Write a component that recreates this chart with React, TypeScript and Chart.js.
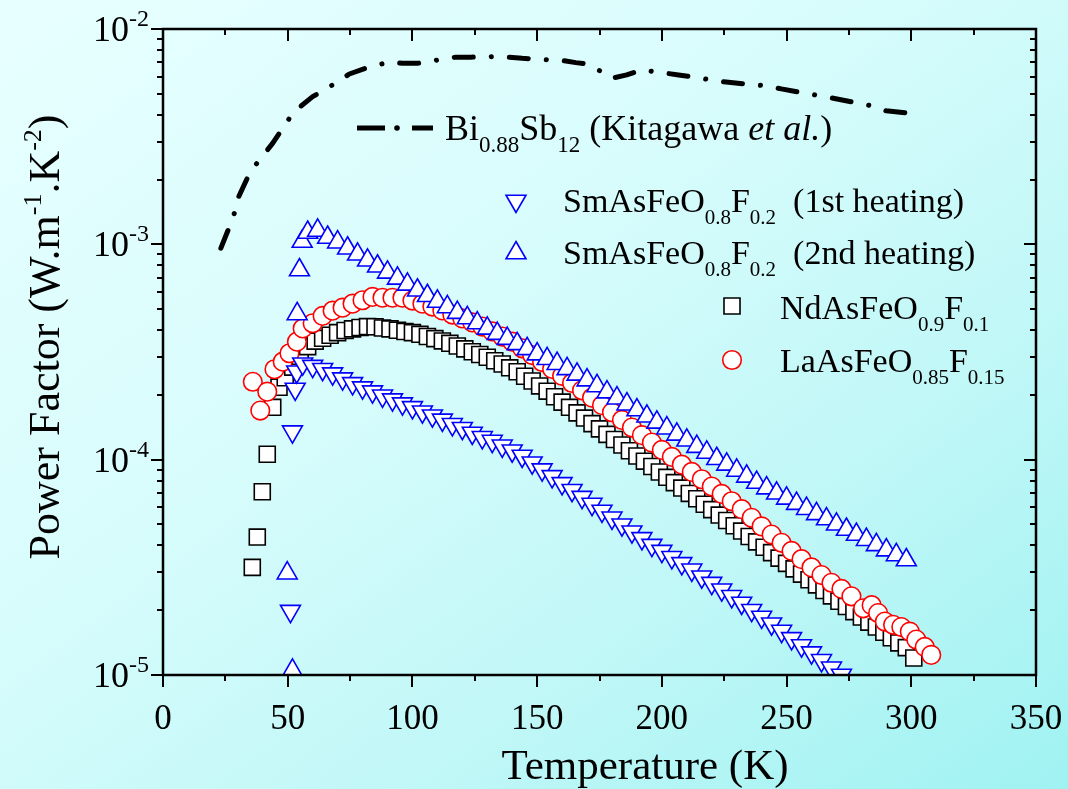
import React, { useEffect, useRef } from 'react';
import { Chart, registerables } from 'chart.js';

Chart.register(...registerables);

const FONT = "'Liberation Serif', 'Times New Roman', Times, serif";

// ---------- data (Temperature K, Power factor W m^-1 K^-2) ----------
const biT = [23.2, 27.4, 29.1, 30.4, 34.7, 38.7, 44, 50.7, 54.7, 60, 70.7, 74.7, 81.4, 90.7, 95.9, 102, 112, 117.4, 123.4, 133.4, 138.7, 144, 153.4, 158.7, 165.5, 169.5, 173.5, 180, 185.9, 191.9, 200, 206.7, 215.9, 221.4, 226.7, 236.7, 242, 247.9, 257.5, 262.7, 268.7, 278.7, 284, 289.9, 299.5];
const biV = [9.6e-4, 1.27e-3, 1.45e-3, 1.67e-3, 2.14e-3, 2.47e-3, 2.95e-3, 3.85e-3, 4.33e-3, 4.85e-3, 5.74e-3, 6.18e-3, 6.58e-3, 7.03e-3, 6.93e-3, 6.93e-3, 7.24e-3, 7.4e-3, 7.4e-3, 7.45e-3, 7.4e-3, 7.31e-3, 7.2e-3, 7.18e-3, 6.98e-3, 6.9e-3, 6.57e-3, 5.91e-3, 6.12e-3, 6.46e-3, 6.27e-3, 6.12e-3, 5.9e-3, 5.75e-3, 5.66e-3, 5.5e-3, 5.46e-3, 5.27e-3, 5.03e-3, 4.91e-3, 4.77e-3, 4.52e-3, 4.4e-3, 4.17e-3, 4.06e-3];

const sm1T = [51.1, 51.9, 53.0, 53.6, 56, 60, 64, 68, 72, 76, 80, 84, 88, 92, 96, 100, 104, 108, 112, 116, 120, 124, 128, 132, 136, 140, 144, 148, 152, 156, 160, 164, 168, 172, 176, 180, 184, 188, 192, 196, 200, 204, 208, 212, 216, 220, 224, 228, 232, 236, 240, 244, 248, 252, 256, 260, 264, 268, 272, 276];
const sm1V = [1.98e-5, 1.35e-4, 2.13e-4, 2.56e-4, 2.79e-4, 2.72e-4, 2.63e-4, 2.51e-4, 2.38e-4, 2.26e-4, 2.16e-4, 2.07e-4, 1.98e-4, 1.9e-4, 1.82e-4, 1.75e-4, 1.67e-4, 1.6e-4, 1.53e-4, 1.46e-4, 1.4e-4, 1.33e-4, 1.27e-4, 1.22e-4, 1.16e-4, 1.1e-4, 1.04e-4, 9.68e-5, 8.99e-5, 8.36e-5, 7.76e-5, 7.21e-5, 6.7e-5, 6.22e-5, 5.78e-5, 5.37e-5, 4.99e-5, 4.63e-5, 4.31e-5, 4.01e-5, 3.76e-5, 3.52e-5, 3.3e-5, 3.08e-5, 2.86e-5, 2.67e-5, 2.49e-5, 2.32e-5, 2.16e-5, 2.0e-5, 1.86e-5, 1.73e-5, 1.6e-5, 1.48e-5, 1.37e-5, 1.27e-5, 1.17e-5, 1.08e-5, 1.0e-5, 9.3e-6];

const sm2T = [51.9, 49.8, 53.8, 54.7, 55.8, 58, 62, 66, 70, 74, 78, 82, 86, 90, 94, 98, 102, 106, 110, 114, 118, 122, 126, 130, 134, 138, 142, 146, 150, 154, 158, 162, 166, 170, 174, 178, 182, 186, 190, 194, 198, 202, 206, 210, 214, 218, 222, 226, 230, 234, 238, 242, 246, 250, 254, 258, 262, 266, 270, 274, 278, 282, 286, 290, 294, 298];
const sm2V = [1.05e-5, 2.97e-5, 4.75e-4, 7.6e-4, 1.03e-3, 1.135e-3, 1.16e-3, 1.076e-3, 1.023e-3, 9.59e-4, 8.99e-4, 8.43e-4, 7.91e-4, 7.41e-4, 6.95e-4, 6.52e-4, 6.12e-4, 5.77e-4, 5.43e-4, 5.12e-4, 4.82e-4, 4.55e-4, 4.31e-4, 4.07e-4, 3.85e-4, 3.65e-4, 3.45e-4, 3.27e-4, 3.09e-4, 2.94e-4, 2.79e-4, 2.64e-4, 2.49e-4, 2.34e-4, 2.2e-4, 2.06e-4, 1.93e-4, 1.81e-4, 1.7e-4, 1.59e-4, 1.49e-4, 1.4e-4, 1.31e-4, 1.23e-4, 1.15e-4, 1.08e-4, 1.01e-4, 9.51e-5, 8.91e-5, 8.36e-5, 7.83e-5, 7.38e-5, 6.98e-5, 6.61e-5, 6.25e-5, 5.92e-5, 5.6e-5, 5.3e-5, 5.01e-5, 4.74e-5, 4.49e-5, 4.25e-5, 4.02e-5, 3.8e-5, 3.61e-5, 3.42e-5];

const ndT = [35.8, 37.8, 39.8, 41.8, 44.0, 46.5, 49, 52, 55, 58, 61, 64, 67, 70, 73, 76, 79, 82, 85, 88, 91, 94, 97, 100, 103, 106, 109, 112, 115, 118, 121, 124, 127, 130, 133, 136, 139, 142, 145, 148, 151, 154, 157, 160, 163, 166, 169, 172, 175, 178, 181, 184, 187, 190, 193, 196, 199, 202, 205, 208, 211, 214, 217, 220, 223, 226, 229, 232, 235, 238, 241, 244, 247, 250, 253, 256, 259, 262, 265, 268, 271, 274, 277, 280, 283, 286, 289, 292, 295, 298, 301];
const ndV = [3.16e-5, 4.37e-5, 7.1e-5, 1.06e-4, 1.75e-4, 2.17e-4, 2.4e-4, 2.69e-4, 3.02e-4, 3.35e-4, 3.55e-4, 3.66e-4, 3.78e-4, 3.89e-4, 3.98e-4, 4.05e-4, 4.11e-4, 4.15e-4, 4.14e-4, 4.09e-4, 4.05e-4, 3.99e-4, 3.94e-4, 3.89e-4, 3.82e-4, 3.73e-4, 3.65e-4, 3.56e-4, 3.47e-4, 3.37e-4, 3.27e-4, 3.17e-4, 3.08e-4, 2.99e-4, 2.88e-4, 2.78e-4, 2.67e-4, 2.56e-4, 2.44e-4, 2.32e-4, 2.2e-4, 2.08e-4, 1.96e-4, 1.85e-4, 1.75e-4, 1.65e-4, 1.56e-4, 1.47e-4, 1.39e-4, 1.31e-4, 1.24e-4, 1.17e-4, 1.1e-4, 1.04e-4, 9.84e-5, 9.29e-5, 8.77e-5, 8.28e-5, 7.82e-5, 7.38e-5, 6.97e-5, 6.58e-5, 6.21e-5, 5.86e-5, 5.53e-5, 5.22e-5, 4.93e-5, 4.66e-5, 4.4e-5, 4.15e-5, 3.92e-5, 3.7e-5, 3.49e-5, 3.3e-5, 3.11e-5, 2.94e-5, 2.77e-5, 2.62e-5, 2.47e-5, 2.33e-5, 2.2e-5, 2.08e-5, 1.97e-5, 1.86e-5, 1.76e-5, 1.67e-5, 1.58e-5, 1.49e-5, 1.41e-5, 1.34e-5, 1.2e-5];

const laT = [36, 39, 41.8, 44.7, 48, 50.7, 53.7, 56, 60, 64, 68, 72, 76, 80, 84, 88, 92, 96, 100, 104, 108, 112, 116, 120, 124, 128, 132, 136, 140, 144, 148, 152, 156, 160, 164, 168, 172, 176, 180, 184, 188, 192, 196, 200, 204, 208, 212, 216, 220, 224, 228, 232, 236, 240, 244, 248, 252, 256, 260, 264, 268, 272, 276, 280.7, 284.1, 286.7, 289.4, 292.7, 296, 299.4, 302, 305.4, 308];
const laV = [2.3e-4, 1.69e-4, 2.07e-4, 2.63e-4, 2.85e-4, 3.12e-4, 3.53e-4, 4.07e-4, 4.3e-4, 4.65e-4, 4.92e-4, 5.08e-4, 5.3e-4, 5.5e-4, 5.7e-4, 5.65e-4, 5.65e-4, 5.65e-4, 5.48e-4, 5.3e-4, 5.14e-4, 4.93e-4, 4.72e-4, 4.53e-4, 4.34e-4, 4.15e-4, 3.94e-4, 3.73e-4, 3.53e-4, 3.29e-4, 3.06e-4, 2.84e-4, 2.64e-4, 2.45e-4, 2.27e-4, 2.1e-4, 1.94e-4, 1.79e-4, 1.66e-4, 1.53e-4, 1.41e-4, 1.3e-4, 1.2e-4, 1.11e-4, 1.03e-4, 9.48e-5, 8.77e-5, 8.11e-5, 7.5e-5, 6.93e-5, 6.41e-5, 5.89e-5, 5.37e-5, 4.9e-5, 4.49e-5, 4.11e-5, 3.77e-5, 3.45e-5, 3.16e-5, 2.91e-5, 2.68e-5, 2.51e-5, 2.32e-5, 2.04e-5, 2.11e-5, 1.94e-5, 1.77e-5, 1.71e-5, 1.67e-5, 1.59e-5, 1.46e-5, 1.35e-5, 1.24e-5];

// ---------- axis ticks ----------
const xMajorTicks = [0, 50, 100, 150, 200, 250, 300, 350];
const xMinorTicks = [25, 75, 125, 175, 225, 275, 325];
const yMajorTicks = [1e-5, 1e-4, 1e-3, 1e-2];
const yExponents = ['-5', '-4', '-3', '-2'];
const yMinorMantissas = [2, 3, 4, 5, 6, 7, 8, 9];

const TRI_R = 11.5;
const CIRC_R = 9.3;
const RECT_R = 11.3;
const MARK_BW = 1.6;

type Seg = [string, string];

function rich(ctx: CanvasRenderingContext2D, x: number, y: number, segs: Seg[], size: number, small: number, subDy: number, supDy: number, draw = true): number {
  let cx = x;
  for (const [t, k] of segs) {
    const isSmall = k === 'sub' || k === 'sup';
    const fs = isSmall ? small : size;
    ctx.font = `${k === 'i' ? 'italic ' : ''}${fs}px ${FONT}`;
    const dy = k === 'sub' ? subDy : k === 'sup' ? supDy : 0;
    if (draw) ctx.fillText(t, cx, y + dy);
    cx += ctx.measureText(t).width;
  }
  return cx - x;
}

function triangle(ctx: CanvasRenderingContext2D, x: number, y: number, r: number, down: boolean) {
  let rad = down ? Math.PI : 0;
  ctx.beginPath();
  for (let i = 0; i < 3; i++) {
    const px = x + Math.sin(rad) * r;
    const py = y - Math.cos(rad) * r;
    if (i === 0) ctx.moveTo(px, py); else ctx.lineTo(px, py);
    rad += (2 * Math.PI) / 3;
  }
  ctx.closePath();
  ctx.fill();
  ctx.stroke();
}

const decorPlugin = {
  id: 'decor',
  afterDraw(chart: any) {
    const ctx: CanvasRenderingContext2D = chart.ctx;
    const xs = chart.scales.x;
    const ys = chart.scales.y;
    const { left, right, top, bottom } = chart.chartArea;
    ctx.save();
    ctx.strokeStyle = '#000';
    ctx.fillStyle = '#000';
    ctx.lineCap = 'butt';

    // ticks
    ctx.lineWidth = 2;
    const majLen = 12;
    const minLen = 6;
    ctx.beginPath();
    for (const t of xMajorTicks) {
      const px = Math.round(xs.getPixelForValue(t));
      ctx.moveTo(px, bottom); ctx.lineTo(px, bottom + majLen);
      ctx.moveTo(px, top); ctx.lineTo(px, top + majLen);
    }
    for (const t of xMinorTicks) {
      const px = Math.round(xs.getPixelForValue(t));
      ctx.moveTo(px, bottom); ctx.lineTo(px, bottom + minLen);
      ctx.moveTo(px, top); ctx.lineTo(px, top + minLen);
    }
    for (const v of yMajorTicks) {
      const py = Math.round(ys.getPixelForValue(v));
      ctx.moveTo(left - majLen, py); ctx.lineTo(left, py);
      ctx.moveTo(right - majLen, py); ctx.lineTo(right, py);
    }
    for (let d = 0; d < yMajorTicks.length - 1; d++) {
      for (const m of yMinorMantissas) {
        const py = Math.round(ys.getPixelForValue(m * yMajorTicks[d]));
        ctx.moveTo(left - minLen, py); ctx.lineTo(left, py);
        ctx.moveTo(right - minLen, py); ctx.lineTo(right, py);
      }
    }
    ctx.stroke();

    // frame
    ctx.lineWidth = 2.5;
    ctx.strokeRect(left, top, right - left, bottom - top);

    // x tick labels
    ctx.textBaseline = 'alphabetic';
    ctx.textAlign = 'center';
    ctx.font = `35px ${FONT}`;
    for (const t of xMajorTicks) {
      ctx.fillText(String(t), xs.getPixelForValue(t), 729);
    }
    ctx.textAlign = 'left';

    // y tick labels
    yMajorTicks.forEach((v, i) => {
      const py = ys.getPixelForValue(v);
      const segs: Seg[] = [['10', ''], [yExponents[i], 'sup']];
      const w = rich(ctx, 0, 0, segs, 36, 24, 0, -15, false);
      rich(ctx, 149 - w, py + 12, segs, 36, 24, 0, -15);
    });

    // axis titles
    ctx.font = `43px ${FONT}`;
    const xt = 'Temperature (K)';
    const xw = ctx.measureText(xt).width;
    ctx.fillText(xt, 645 - xw / 2, 779);

    const ySegs: Seg[] = [['Power Factor (W.m', ''], ['-1', 'sup'], ['.K', ''], ['-2', 'sup'], [')', '']];
    const yw = rich(ctx, 0, 0, ySegs, 44, 26, 0, -18, false);
    ctx.save();
    ctx.translate(59, 337);
    ctx.rotate(-Math.PI / 2);
    rich(ctx, -yw / 2, 0, ySegs, 44, 26, 0, -18);
    ctx.restore();

    // legend
    ctx.lineWidth = 5;
    ctx.lineCap = 'butt';
    ctx.beginPath();
    ctx.moveTo(357, 128); ctx.lineTo(385, 128);
    ctx.moveTo(412, 128); ctx.lineTo(433, 128);
    ctx.stroke();
    ctx.beginPath();
    ctx.arc(397, 128, 2.8, 0, Math.PI * 2);
    ctx.fill();
    rich(ctx, 445, 140, [['Bi', ''], ['0.88', 'sub'], ['Sb', ''], ['12', 'sub'], [' (Kitagawa ', ''], ['et al.', 'i'], [')', '']], 36, 23, 12, 0);

    const LS = 34, LSS = 21, SUB = 12;
    ctx.lineWidth = MARK_BW;
    ctx.fillStyle = '#fff';
    ctx.strokeStyle = '#0000ff';
    triangle(ctx, 516, 201, TRI_R, true);
    triangle(ctx, 516, 253, TRI_R, false);
    ctx.strokeStyle = '#000';
    ctx.beginPath();
    ctx.rect(732 - 8, 306 - 8, 16, 16);
    ctx.fill(); ctx.stroke();
    ctx.strokeStyle = '#ff0000';
    ctx.beginPath();
    ctx.arc(732, 360, CIRC_R, 0, Math.PI * 2);
    ctx.fill(); ctx.stroke();

    ctx.fillStyle = '#000';
    rich(ctx, 563, 212, [['SmAsFeO', ''], ['0.8', 'sub'], ['F', ''], ['0.2', 'sub'], ['  (1st heating)', '']], LS, LSS, SUB, 0);
    rich(ctx, 563, 264, [['SmAsFeO', ''], ['0.8', 'sub'], ['F', ''], ['0.2', 'sub'], ['  (2nd heating)', '']], LS, LSS, SUB, 0);
    rich(ctx, 780, 319, [['NdAsFeO', ''], ['0.9', 'sub'], ['F', ''], ['0.1', 'sub']], LS, LSS, SUB, 0);
    rich(ctx, 780, 372, [['LaAsFeO', ''], ['0.85', 'sub'], ['F', ''], ['0.15', 'sub']], LS, LSS, SUB, 0);

    ctx.restore();
  },
};

function pts(t: number[], v: number[]) {
  return t.map((x, i) => ({ x, y: v[i] }));
}

export default function App() {
  const ref = useRef<HTMLCanvasElement | null>(null);
  useEffect(() => {
    if (!ref.current) return;
    const markerBase = { backgroundColor: '#ffffff', borderWidth: MARK_BW, showLine: false, pointHoverRadius: 0 };
    const chart = new Chart(ref.current, {
      type: 'scatter',
      data: {
        datasets: [
          {
            label: 'Bi0.88Sb12 (Kitagawa et al.)',
            data: pts(biT, biV),
            showLine: true,
            borderColor: '#000000',
            borderWidth: 5,
            borderDash: [19, 18, 0.1, 18],
            borderCapStyle: 'round',
            borderJoinStyle: 'round',
            pointRadius: 0,
            fill: false,
            order: 0,
          } as any,
          {
            ...markerBase,
            label: 'SmAsFeO0.8F0.2 (2nd heating)',
            data: pts(sm2T, sm2V),
            pointStyle: 'triangle',
            pointRadius: TRI_R,
            borderColor: '#0000ff',
            order: 1,
          } as any,
          {
            ...markerBase,
            label: 'SmAsFeO0.8F0.2 (1st heating)',
            data: pts(sm1T, sm1V),
            pointStyle: 'triangle',
            pointRotation: 180,
            pointRadius: TRI_R,
            borderColor: '#0000ff',
            order: 2,
          } as any,
          {
            ...markerBase,
            label: 'LaAsFeO0.85F0.15',
            data: pts(laT, laV),
            pointStyle: 'circle',
            pointRadius: CIRC_R,
            borderColor: '#ff0000',
            order: 3,
          } as any,
          {
            ...markerBase,
            label: 'NdAsFeO0.9F0.1',
            data: pts(ndT, ndV),
            pointStyle: 'rect',
            pointRadius: RECT_R,
            borderColor: '#000000',
            order: 4,
          } as any,
        ],
      },
      options: {
        responsive: false,
        maintainAspectRatio: false,
        devicePixelRatio: 1,
        animation: false,
        events: [],
        layout: { padding: { left: 163, right: 32, top: 29, bottom: 114 } },
        plugins: { legend: { display: false }, tooltip: { enabled: false } },
        scales: {
          x: { type: 'linear', min: 0, max: 350, display: false },
          y: { type: 'logarithmic', min: 1e-5, max: 1e-2, display: false },
        },
      },
      plugins: [decorPlugin],
    } as any);
    return () => chart.destroy();
  }, []);

  return (
    <div
      style={{
        position: 'fixed',
        left: 0,
        top: 0,
        width: 1068,
        height: 789,
        background: 'linear-gradient(to bottom right, #e8ffff 0%, #d8fcfc 40%, #c0f7f7 70%, #a0f2f2 100%)',
      }}
    >
      <canvas ref={ref} width={1068} height={789} style={{ display: 'block', width: 1068, height: 789 }} />
    </div>
  );
}
